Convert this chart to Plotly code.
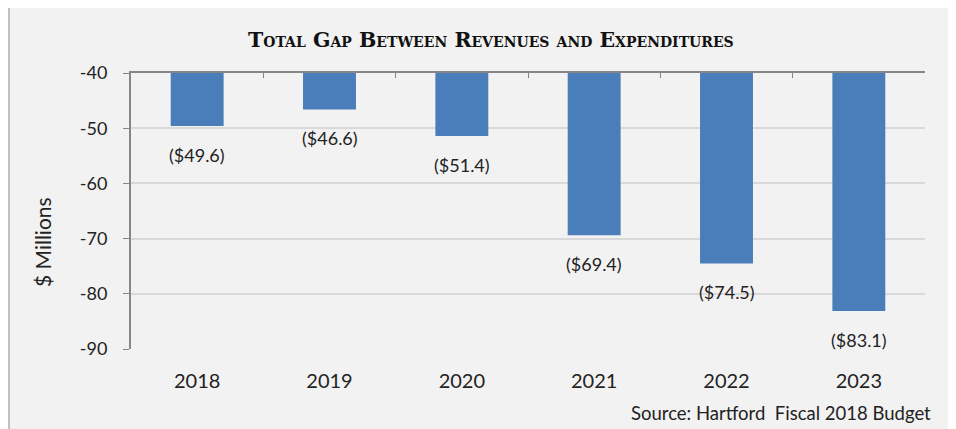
import plotly.graph_objects as go

years = ["2018", "2019", "2020", "2021", "2022", "2023"]
gap_values = [-49.6, -46.6, -51.4, -69.4, -74.5, -83.1]
value_labels = ["($49.6)", "($46.6)", "($51.4)", "($69.4)", "($74.5)", "($83.1)"]
y_ticks = [-40, -50, -60, -70, -80, -90]
y_tick_labels = ["-40", "-50", "-60", "-70", "-80", "-90"]
BASE = -40

BAR_COLOR = "#4a7ebb"
FONT = "Lato"

fig = go.Figure()
fig.add_trace(go.Bar(
    x=years,
    y=[v - BASE for v in gap_values],
    base=BASE,
    marker=dict(color=BAR_COLOR, line=dict(width=0)),
    width=0.4,
    hoverinfo="skip",
    showlegend=False,
))
# invisible trace to hold the top axis
fig.add_trace(go.Scatter(x=[0], y=[BASE], xaxis="x2", mode="markers",
                         marker=dict(opacity=0), showlegend=False, hoverinfo="skip"))

for i, (v, lab) in enumerate(zip(gap_values, value_labels)):
    fig.add_annotation(xref="x", yref="y", x=i, y=v, text=lab, showarrow=False,
                       xanchor="center", yanchor="middle", yshift=-29,
                       font=dict(family=FONT, size=18, color="#222"))

OFF = 8  # page body margin offset
W, H = 956, 429
# target screen positions of plot area: left 131, top 73, right 925, bottom 349
L = 131 - OFF
T = 73 - OFF
R = W - (925 - OFF)
B = H - (349 - OFF)
pw, ph = W - L - R, H - T - B

def px_x(x):
    return (x - OFF - L) / pw

def px_y(y):
    return (H - B - (y - OFF)) / ph

# chart background panel with border
fig.add_shape(type="rect", xref="paper", yref="paper",
              x0=px_x(9), x1=px_x(1000), y0=px_y(7), y1=px_y(500),
              fillcolor="#f2f2f2", line=dict(color="#c0c0c0", width=2), layer="below")

fig.add_annotation(xref="paper", yref="paper", x=px_x(491), y=px_y(40),
                   xanchor="center", yanchor="middle",
                   text="Total Gap Between Revenues and Expenditures", showarrow=False,
                   font=dict(family="DejaVu Serif", size=20.5, color="#111",
                             weight="bold", variant="small-caps"))
fig.add_annotation(xref="paper", yref="paper", x=px_x(42), y=px_y(242),
                   xanchor="center", yanchor="middle",
                   text="$ Millions", textangle=-90, showarrow=False,
                   font=dict(family=FONT, size=21, color="#222"))
fig.add_annotation(xref="paper", yref="paper", x=px_x(933), y=px_y(413),
                   xanchor="right", yanchor="middle",
                   text="Source: Hartford  Fiscal 2018 Budget",
                   showarrow=False, font=dict(family=FONT, size=18.5, color="#222"))

fig.update_layout(
    width=W, height=H,
    margin=dict(l=L, r=R, t=T, b=B, autoexpand=False),
    paper_bgcolor="white",
    plot_bgcolor="white",
    bargap=0.6,
    xaxis=dict(type="category", showline=False, showgrid=False, ticks="",
               tickfont=dict(family=FONT, size=20, color="#222"),
               ticklabelstandoff=18, range=[-0.5, 5.5]),
    xaxis2=dict(overlaying="x", side="top", range=[-0.5, 5.5], showline=True,
                linecolor="#868686", linewidth=2, ticks="inside", ticklen=5,
                tickcolor="#868686", tickvals=[-0.5, 0.5, 1.5, 2.5, 3.5, 4.5, 5.5],
                showticklabels=False, showgrid=False, zeroline=False),
    yaxis=dict(range=[-90, -40], tickvals=y_ticks, ticktext=y_tick_labels,
               showgrid=True, gridcolor="#d9d9d9",
               gridwidth=1.5, showline=True, linecolor="#868686", linewidth=2,
               ticks="outside", ticklen=6, tickcolor="#868686", zeroline=False,
               tickfont=dict(family=FONT, size=18, color="#222"), ticklabelstandoff=12),
)

fig.write_html("out.html")
